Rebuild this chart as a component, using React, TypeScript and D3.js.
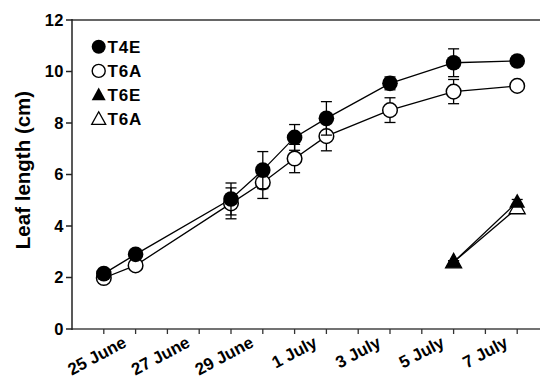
import React from "react";
import * as d3 from "d3";

const dates = ["2024-06-24", "2024-06-25", "2024-06-28", "2024-06-29", "2024-06-30", "2024-07-01", "2024-07-03", "2024-07-05", "2024-07-07"];
const t4eValues = [2.15, 2.9, 5.05, 6.17, 7.44, 8.18, 9.54, 10.34, 10.41];
const t4eErrors = [0.1, 0.1, 0.62, 0.72, 0.5, 0.65, 0.25, 0.54, 0.1];
const t6aValues = [1.98, 2.47, 4.88, 5.69, 6.62, 7.49, 8.5, 9.22, 9.44];
const t6aErrors = [0.1, 0.1, 0.6, 0.62, 0.55, 0.57, 0.48, 0.47, 0.1];

const triDates = ["2024-07-05", "2024-07-07"];
const t6eValues = [2.6, 4.93];
const t6eErrors = [0.05, 0.1];
const t6aTriValues = [2.6, 4.7];
const t6aTriErrors = [0.05, 0.15];

const tickDates = ["2024-06-24", "2024-06-25", "2024-06-26", "2024-06-27", "2024-06-28", "2024-06-29", "2024-06-30", "2024-07-01", "2024-07-02", "2024-07-03", "2024-07-04", "2024-07-05", "2024-07-06", "2024-07-07"];
const labelDates = ["2024-06-25", "2024-06-27", "2024-06-29", "2024-07-01", "2024-07-03", "2024-07-05", "2024-07-07"];
const labelTexts = ["25 June", "27 June", "29 June", "1 July", "3 July", "5 July", "7 July"];
const yTicks = [0, 2, 4, 6, 8, 10, 12];
const legendNames = ["T4E", "T6A", "T6E", "T6A"];

const W = 540, H = 381;
const left = 72, top = 20, bottom = 329;
const parse = d3.timeParse("%Y-%m-%d");
const x = d3.scaleTime().domain([parse("2024-06-23")!, parse("2024-07-08")!]).range([left, left + 15 * 31.8]);
const y = d3.scaleLinear().domain([0, 12]).range([bottom, top]);
const font = "'Liberation Sans', Arial, sans-serif";

function triPath(cx: number, cy: number, s = 8) {
  const h = s * 1.8;
  return `M${cx},${cy - h * 0.6}L${cx + s},${cy + h * 0.4}L${cx - s},${cy + h * 0.4}Z`;
}

function ErrorBars({ ds, vals, errs }: { ds: string[]; vals: number[]; errs: number[] }) {
  return (
    <g stroke="#000" strokeWidth={1.3}>
      {ds.map((d, i) => {
        const cx = x(parse(d)!);
        const y1 = y(vals[i] + errs[i]);
        const y2 = y(vals[i] - errs[i]);
        return (
          <g key={i}>
            <line x1={cx} x2={cx} y1={y1} y2={y2} />
            <line x1={cx - 5.5} x2={cx + 5.5} y1={y1} y2={y1} />
            <line x1={cx - 5.5} x2={cx + 5.5} y1={y2} y2={y2} />
          </g>
        );
      })}
    </g>
  );
}

export default function App() {
  const line = d3.line<[number, number]>().x((d) => d[0]).y((d) => d[1]);
  const pts = (ds: string[], vs: number[]) => ds.map((d, i) => [x(parse(d)!), y(vs[i])] as [number, number]);

  return (
    <svg width={W} height={H} style={{ position: "absolute", left: 0, top: 0, background: "#fff" }} fontFamily={font}>
      {/* axes */}
      <line x1={left} x2={W} y1={top} y2={top} stroke="#666" strokeWidth={2} />
      <line x1={left} x2={W} y1={bottom} y2={bottom} stroke="#444" strokeWidth={1.5} />
      <line x1={left} x2={left} y1={top - 1} y2={bottom + 1} stroke="#222" strokeWidth={1.5} />
      {yTicks.map((t) => (
        <g key={t}>
          <line x1={left - 6} x2={left} y1={y(t)} y2={y(t)} stroke="#222" strokeWidth={1.5} />
          <text x={64} y={y(t)} dy="0.36em" textAnchor="end" fontSize={16.5} fontWeight="bold" letterSpacing={0.5}>{t}</text>
        </g>
      ))}
      {tickDates.map((d) => (
        <line key={d} x1={x(parse(d)!)} x2={x(parse(d)!)} y1={bottom} y2={bottom + 5} stroke="#333" strokeWidth={1.3} />
      ))}
      {labelDates.map((d, i) => (
        <text key={d} transform={`translate(${x(parse(d)!) - 8},${bottom + 17}) rotate(-28)`} textAnchor="end" fontSize={17} fontWeight="bold">
          {labelTexts[i]}
        </text>
      ))}
      <text transform={`translate(23,170) rotate(-90)`} textAnchor="middle" dy="0.35em" fontSize={20.5} fontWeight="bold">Leaf length (cm)</text>

      {/* circles */}
      <path d={line(pts(dates, t6aValues))!} fill="none" stroke="#000" strokeWidth={1.3} />
      <path d={line(pts(dates, t4eValues))!} fill="none" stroke="#000" strokeWidth={1.3} />
      <ErrorBars ds={dates} vals={t6aValues} errs={t6aErrors} />
      {pts(dates, t6aValues).map((p, i) => (
        <circle key={i} cx={p[0]} cy={p[1]} r={7.3} fill="#fff" stroke="#000" strokeWidth={1.5} />
      ))}
      <ErrorBars ds={dates} vals={t4eValues} errs={t4eErrors} />
      {pts(dates, t4eValues).map((p, i) => (
        <circle key={i} cx={p[0]} cy={p[1]} r={7.8} fill="#000" />
      ))}

      {/* triangles */}
      <path d={line(pts(triDates, t6aTriValues))!} fill="none" stroke="#000" strokeWidth={1.3} />
      <ErrorBars ds={triDates} vals={t6aTriValues} errs={t6aTriErrors} />
      {pts(triDates, t6aTriValues).map((p, i) => (
        <path key={i} d={triPath(p[0], p[1])} fill="#fff" stroke="#000" strokeWidth={1.3} />
      ))}
      <path d={line(pts(triDates, t6eValues))!} fill="none" stroke="#000" strokeWidth={1.3} />
      <ErrorBars ds={triDates} vals={t6eValues} errs={t6eErrors} />
      {pts(triDates, t6eValues).map((p, i) => (
        <path key={i} d={triPath(p[0], p[1])} fill="#000" />
      ))}

      {/* legend */}
      {legendNames.map((n, i) => {
        const ly = 46.7 + i * 24.2;
        const lx = 98.7;
        let marker;
        if (i === 0) marker = <circle cx={lx} cy={ly} r={7} fill="#000" />;
        else if (i === 1) marker = <circle cx={lx} cy={ly} r={6.5} fill="#fff" stroke="#000" strokeWidth={1.4} />;
        else if (i === 2) marker = <path d={triPath(lx, ly, 7)} fill="#000" />;
        else marker = <path d={triPath(lx, ly, 7)} fill="#fff" stroke="#000" strokeWidth={1.3} />;
        return (
          <g key={i}>
            {marker}
            <text x={107.5} y={ly} dy="0.36em" fontSize={17} fontWeight="bold" letterSpacing={0.8}>{n}</text>
          </g>
        );
      })}
    </svg>
  );
}
